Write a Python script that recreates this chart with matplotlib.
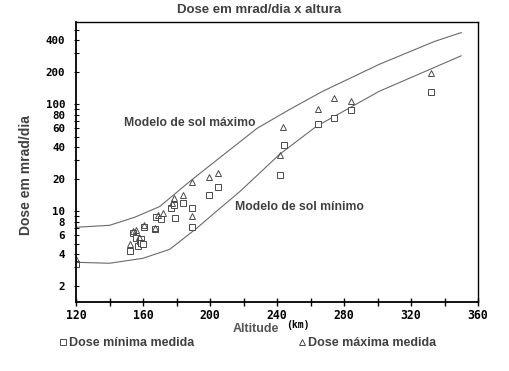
import matplotlib
matplotlib.use("Agg")
import matplotlib.pyplot as plt
from matplotlib.lines import Line2D
from matplotlib.ticker import FixedLocator, NullFormatter, FixedFormatter

# ---- data ----
upper_alt = [120, 140, 155, 170, 188, 203, 228, 247.5, 267, 301, 334, 350]
upper_val = [7.1, 7.4, 8.8, 11.1, 19.1, 29.3, 59.6, 89.7, 132, 237, 388, 470]

lower_alt = [120, 140, 160, 176, 192, 206, 218, 241.5, 263.5, 301, 350]
lower_val = [3.34, 3.27, 3.64, 4.42, 6.94, 10.7, 15.4, 34.1, 62.3, 132.6, 285]

min_alt = [120, 152, 154, 156, 157, 158, 159, 159, 160, 160.5, 167, 168, 171,
           177, 178.5, 179.4, 184, 189.3, 189.3, 199.4, 204.8, 242, 243.9,
           264.3, 274.3, 284.2, 332]
min_val = [3.2, 4.3, 6.3, 5.6, 4.7, 5.3, 5.5, 5.1, 4.9, 7.1, 6.9, 8.8, 8.5,
           10.7, 11.5, 8.6, 12, 10.7, 7.2, 14.3, 17, 22, 41.4,
           65, 75, 89, 130]

max_alt = [120, 152, 154, 156, 157.7, 160.5, 167, 169, 172, 177.5, 178.5, 184,
           189.3, 189.5, 199.4, 204.8, 242, 243.5, 264.3, 274.3, 284.2, 332]
max_val = [3.6, 4.9, 6.6, 6.7, 5.8, 7.5, 7.0, 9.2, 9.6, 12, 13.3, 14.3,
           9.0, 19, 20.8, 22.8, 33.4, 62, 91, 116, 108, 198]

x_major = [120, 160, 200, 240, 280, 320, 360]
x_minor = [140, 180, 220, 260, 300, 340]
y_labels = [2, 4, 6, 8, 10, 20, 40, 60, 80, 100, 200, 400]
y_minor = [3, 5, 7, 9, 30, 50, 70, 90, 300, 500]

W, H = 509, 371
fig = plt.figure(figsize=(W / 100, H / 100), dpi=100)
ax = fig.add_axes([76 / W, 1 - 302 / H, (478 - 76) / W, (302 - 22) / H])

line_col = "#6a6a6a"
mk_col = "#4a4a4a"
txt_col = "#404040"

ax.plot(upper_alt, upper_val, color=line_col, lw=0.8)
ax.plot(lower_alt, lower_val, color=line_col, lw=0.8)
ax.plot(min_alt, min_val, ls="none", marker="s", ms=3.8, mfc="white",
        mec=mk_col, mew=0.7)
ax.plot(max_alt, max_val, ls="none", marker="^", ms=3.8, mfc="none",
        mec=mk_col, mew=0.7)

ax.set_yscale("log")
ax.set_xlim(120, 360)
ax.set_ylim(1.42, 590)

ax.xaxis.set_major_locator(FixedLocator(x_major))
ax.xaxis.set_minor_locator(FixedLocator(x_minor))
ax.yaxis.set_major_locator(FixedLocator(y_labels))
ax.yaxis.set_major_formatter(FixedFormatter([str(v) for v in y_labels]))
ax.yaxis.set_minor_locator(FixedLocator(y_minor))
ax.yaxis.set_minor_formatter(NullFormatter())

for lab in ax.get_xticklabels() + ax.get_yticklabels():
    lab.set_fontfamily("DejaVu Sans Mono")
    lab.set_fontweight("bold")
ax.tick_params(axis="x", which="both", direction="inout", length=6, width=1.0,
               pad=2, colors="black")
ax.tick_params(axis="y", which="both", direction="inout", length=3.6, width=0.8,
               pad=6, colors="black")
ax.tick_params(axis="y", which="major", labelsize=7.8)
ax.tick_params(axis="x", which="major", labelsize=8.3)

for s in ["left", "bottom"]:
    ax.spines[s].set_linewidth(1.3)
for s in ["top", "right"]:
    ax.spines[s].set_linewidth(1.0)

ax.text(148.6, 66.5, "Modelo de sol máximo", ha="left", va="center",
        fontsize=8.8, fontweight="bold", color=txt_col, family="Liberation Sans")
ax.text(214.7, 10.9, "Modelo de sol mínimo", ha="left", va="center",
        fontsize=8.8, fontweight="bold", color=txt_col, family="Liberation Sans")

fig.text(259 / W, 1 - 10 / H, "Dose em mrad/dia x altura", ha="center",
         va="center", fontsize=9.5, fontweight="bold", color=txt_col,
         family="Liberation Sans")
fig.text(26 / W, 1 - 175 / H, "Dose em mrad/dia", ha="center", va="center",
         rotation=90, fontsize=10, fontweight="bold", color=txt_col,
         family="Liberation Sans")
fig.text(233 / W, 1 - 328.5 / H, "Altitude", ha="left", va="center",
         fontsize=9, fontweight="bold", color="#555555",
         family="Liberation Sans")
fig.text(286 / W, 1 - 325 / H, "(km)", ha="left", va="center",
         fontsize=7, fontweight="bold", color="black",
         family="DejaVu Sans Mono")

h_min = Line2D([], [], ls="none", marker="s", ms=3.8, mfc="white",
               mec=mk_col, mew=0.7)
h_max = Line2D([], [], ls="none", marker="^", ms=3.8, mfc="none",
               mec=mk_col, mew=0.7)
leg_kw = dict(frameon=False, handlelength=0.5, handletextpad=0.2,
              borderpad=0, borderaxespad=0,
              prop=dict(family="Liberation Sans", weight="bold", size=9),
              labelcolor=txt_col)
fig.legend([h_min], ["Dose mínima medida"], loc="center left",
           bbox_to_anchor=(60 / W, 1 - 343 / H), **leg_kw)
fig.legend([h_max], ["Dose máxima medida"], loc="center left",
           bbox_to_anchor=(299 / W, 1 - 343 / H), **leg_kw)

fig.savefig("out.png", dpi=100)
